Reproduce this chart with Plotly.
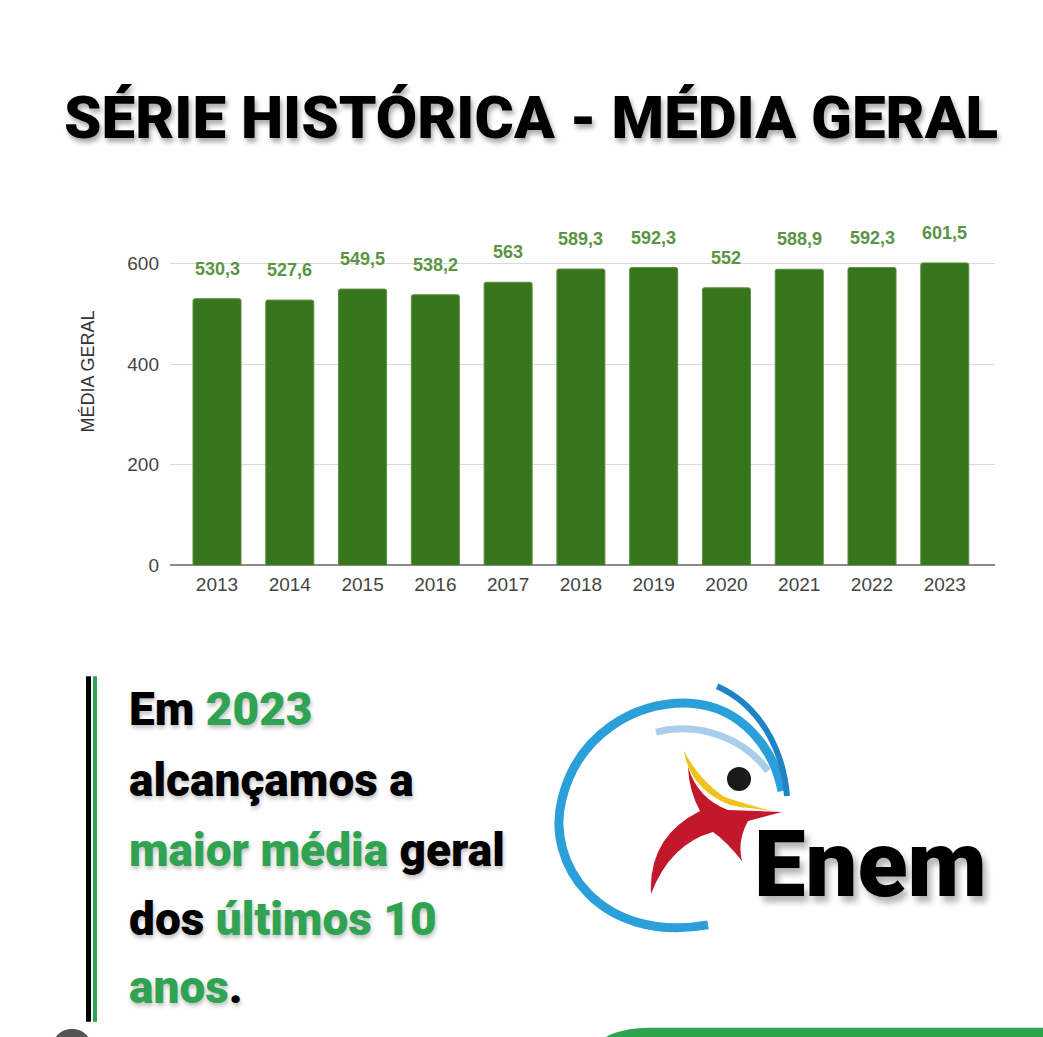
import plotly.graph_objects as go

# ---------------- data ----------------
years = ["2013", "2014", "2015", "2016", "2017", "2018", "2019", "2020", "2021", "2022", "2023"]
media_geral = [530.3, 527.6, 549.5, 538.2, 563, 589.3, 592.3, 552, 588.9, 592.3, 601.5]
y_ticks = [0, 200, 400, 600]

title_text = "SÉRIE HISTÓRICA - MÉDIA GERAL"
y_title = "MÉDIA GERAL"

W, H = 1043, 1037
KY = 1.0095  # vertical compensation for the capture
GREEN_TXT = "#2fa352"
BAR_GREEN = "#38761d"
LABEL_GREEN = "#5a9444"
HEAVY = "Roboto, Liberation Sans Narrow, Arial Narrow, sans-serif"
SANS = "Liberation Sans, Arial, sans-serif"


def px(x):
    return x / W


def py(y):
    return 1 - (y * KY) / H


def path(cmds):
    toks = cmds.replace(",", " ").split()
    out = []
    buf = []
    for t in toks:
        if t.isalpha():
            out.append(t)
        else:
            buf.append(float(t))
            if len(buf) == 2:
                out.append(f"{px(buf[0]):.5f},{py(buf[1]):.5f}")
                buf = []
    return " ".join(out)


fig = go.Figure()
fig.add_trace(go.Bar(
    x=years, y=media_geral,
    marker=dict(color=BAR_GREEN, cornerradius=2, line=dict(color="#5c8f45", width=1)),
    width=0.66,
    hoverinfo="x+y",
))

annotations = []
# data labels (category axis -> serial index positions)
for i, v in enumerate(media_geral):
    lab = (f"{v:g}").replace(".", ",")
    annotations.append(dict(
        x=i, y=v, xref="x", yref="y", text=f"<b>{lab}</b>", showarrow=False,
        xanchor="center", yanchor="middle", yshift=30,
        font=dict(family=SANS, size=18, color=LABEL_GREEN),
    ))

# title
annotations.append(dict(
    x=px(531), y=py(118), xref="paper", yref="paper", text=title_text,
    showarrow=False, xanchor="center", yanchor="middle",
    font=dict(family=HEAVY, size=60, weight=900, color="#000000",
              shadow="2px 4px 5px rgba(0,0,0,0.35)"),
))

# y axis title
annotations.append(dict(
    x=px(88), y=py(372), xref="paper", yref="paper", text=y_title, textangle=-90,
    showarrow=False, xanchor="center", yanchor="middle",
    font=dict(family=SANS, size=18, color="#333333"),
))

# bottom-left message
G = lambda s: f"<span style='color:{GREEN_TXT}'>{s}</span>"
lines = [
    ("Em " + G("2023"), 710),
    ("alcançamos a", 781),
    (G("maior média") + " geral", 851),
    ("dos " + G("últimos 10"), 920),
    (G("anos") + ".", 988),
]
for txt, yy in lines:
    annotations.append(dict(
        x=px(127), y=py(yy), xref="paper", yref="paper", text=txt,
        showarrow=False, xanchor="left", yanchor="middle",
        font=dict(family=HEAVY, size=46, weight=900, color="#000000",
                  shadow="1px 3px 4px rgba(0,0,0,0.25)"),
    ))

# Enem wordmark
annotations.append(dict(
    x=px(752), y=py(866), xref="paper", yref="paper", text="Enem",
    showarrow=False, xanchor="left", yanchor="middle",
    font=dict(family=HEAVY, size=92, weight=900, color="#000000",
              shadow="4px 6px 6px rgba(0,0,0,0.3)"),
))

shapes = []
# vertical bars next to message
shapes.append(dict(type="rect", xref="paper", yref="paper", x0=px(86), x1=px(91), y0=py(1023), y1=py(677),
                   fillcolor="#000000", line=dict(width=0)))
shapes.append(dict(type="rect", xref="paper", yref="paper", x0=px(93), x1=px(97), y0=py(1023), y1=py(677),
                   fillcolor=GREEN_TXT, line=dict(width=0)))

# logo arcs
shapes.append(dict(type="path", xref="paper", yref="paper",
                   path=path("M 708 926 C 600 945 545 865 562 800 C 578 735 635 702 690 704 C 742 707 774 750 782 792"),
                   line=dict(color="#2a9fd9", width=9)))
shapes.append(dict(type="path", xref="paper", yref="paper",
                   path=path("M 717 687 C 758 705 783 748 787 797"),
                   line=dict(color="#1f84c6", width=6)))
shapes.append(dict(type="path", xref="paper", yref="paper",
                   path=path("M 656 733 C 700 722 745 740 768 772"),
                   line=dict(color="#a9cdea", width=7)))
# figure: red body
shapes.append(dict(type="path", xref="paper", yref="paper",
                   path=path("M 688 768 Q 698 800 728 811 L 782 813 L 748 822 Q 737 842 742 862 Q 726 842 713 833 "
                             "Q 670 845 651 895 Q 648 838 700 812 Q 689 792 688 768 Z"),
                   fillcolor="#c3172b", line=dict(width=0)))
# figure: yellow band
shapes.append(dict(type="path", xref="paper", yref="paper",
                   path=path("M 684 752 Q 694 797 742 808 L 772 812 Q 738 803 722 797 Q 698 785 684 752 Z"),
                   fillcolor="#f1c21b", line=dict(width=0)))
shapes.append(dict(type="path", xref="paper", yref="paper",
                   path=path("M 684 752 Q 690 790 730 806 L 745 809 Q 705 792 684 752 Z"),
                   fillcolor="#f1c21b", line=dict(width=0)))
# head
shapes.append(dict(type="circle", xref="paper", yref="paper", x0=px(727), x1=px(751), y0=py(792), y1=py(768),
                   fillcolor="#1a1a1a", line=dict(width=0)))

# bottom decorations
shapes.append(dict(type="circle", xref="paper", yref="paper", x0=px(52), x1=px(92), y0=py(1070), y1=py(1030),
                   fillcolor="#555555", line=dict(width=0)))
shapes.append(dict(type="path", xref="paper", yref="paper",
                   path=path("M 596 1048 Q 606 1030 650 1029 L 1043 1029 L 1043 1048 Z"),
                   fillcolor="#2ea44f", line=dict(width=0)))

y0_px, y600_px = 566, 264
scale = (y0_px - y600_px) / 600.0
top_val = 700
top_px = y0_px - top_val * scale

fig.update_layout(
    width=W, height=H,
    margin=dict(l=0, r=0, t=0, b=0),
    paper_bgcolor="white", plot_bgcolor="white",
    showlegend=False,
    bargap=0.34,
    annotations=annotations,
    shapes=shapes,
    xaxis=dict(
        domain=[px(170), px(995)],
        range=[-0.646, 10.69],
        type="category",
        tickfont=dict(family=SANS, size=19, color="#444444"),
        showgrid=False, showline=False, ticks="",
        ticklabelstandoff=6,
    ),
    yaxis=dict(
        domain=[py(y0_px), py(top_px)],
        range=[0, top_val],
        tickvals=y_ticks,
        tickfont=dict(family=SANS, size=19, color="#444444"),
        gridcolor="#d9d9d9", gridwidth=1,
        zeroline=True, zerolinecolor="#8a8a8a", zerolinewidth=2,
        showline=False, ticks="",
        ticklabelstandoff=10,
    ),
)

fig.write_html("out.html")
